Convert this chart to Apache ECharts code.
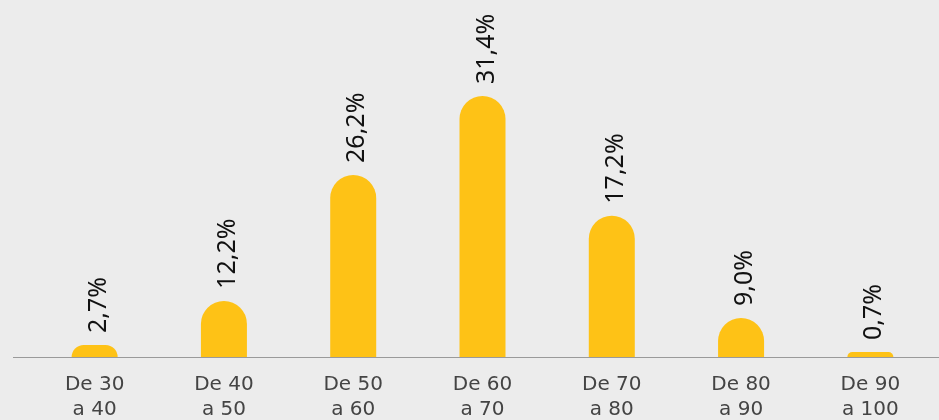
<!DOCTYPE html>
<html>
<head>
<meta charset="utf-8">
<script src="https://cdn.jsdelivr.net/npm/echarts@6/dist/echarts.min.js"></script>
<style>
html,body{margin:0;padding:0;background:#ececec;}
#chart{width:939px;height:420px;}
</style>
</head>
<body>
<div id="chart"></div>
<script>
// Categories (age ranges)
const categories = ['De 30\na 40', 'De 40\na 50', 'De 50\na 60', 'De 60\na 70', 'De 70\na 80', 'De 80\na 90', 'De 90\na 100'];
// Shares shown in the labels (%)
const shares = [2.7, 12.2, 26.2, 31.4, 17.2, 9.0, 0.7];
// Bar heights as drawn in the picture (same units as %)
const barHeights = [1.45, 6.75, 21.9, 31.4, 17.0, 4.7, 0.6];

const chart = echarts.init(document.getElementById('chart'), null, {renderer: 'canvas'});
const fmt = v => v.toFixed(1).replace('.', ',') + '%';

chart.setOption({
  backgroundColor: '#ececec',
  animation: false,
  grid: {left: 30, right: 4, top: 24.5, bottom: 63, containLabel: false, outerBoundsMode: 'none'},
  xAxis: {
    type: 'category',
    data: categories,
    axisLine: {show: false},
    axisTick: {show: false},
    axisLabel: {
      color: '#444',
      fontFamily: 'DejaVu Sans',
      fontSize: 20,
      lineHeight: 25,
      margin: 15
    }
  },
  yAxis: {
    type: 'value',
    min: 0,
    max: 40,
    show: false,
    splitLine: {show: false}
  },
  series: [{
    type: 'bar',
    data: barHeights.map((h, i) => ({value: h, share: shares[i]})),
    barWidth: 46,
    itemStyle: {color: '#fec216', borderRadius: [23, 23, 0, 0]},
    label: {
      show: true,
      position: 'top',
      rotate: 90,
      align: 'left',
      verticalAlign: 'middle',
      distance: 12,
      offset: [0, 4],
      color: '#111',
      fontFamily: 'Noto Sans',
      fontSize: 25,
      formatter: p => fmt(shares[p.dataIndex])
    }
  }]
});

// Baseline across the width
const y0 = chart.convertToPixel({gridIndex: 0}, [0, 0])[1];
chart.setOption({
  graphic: [{
    type: 'line',
    shape: {x1: 13, y1: Math.round(y0) + 0.5, x2: 939, y2: Math.round(y0) + 0.5},
    style: {stroke: '#9a9a9a', lineWidth: 1},
    z: 10
  }]
});
</script>
</body>
</html>
